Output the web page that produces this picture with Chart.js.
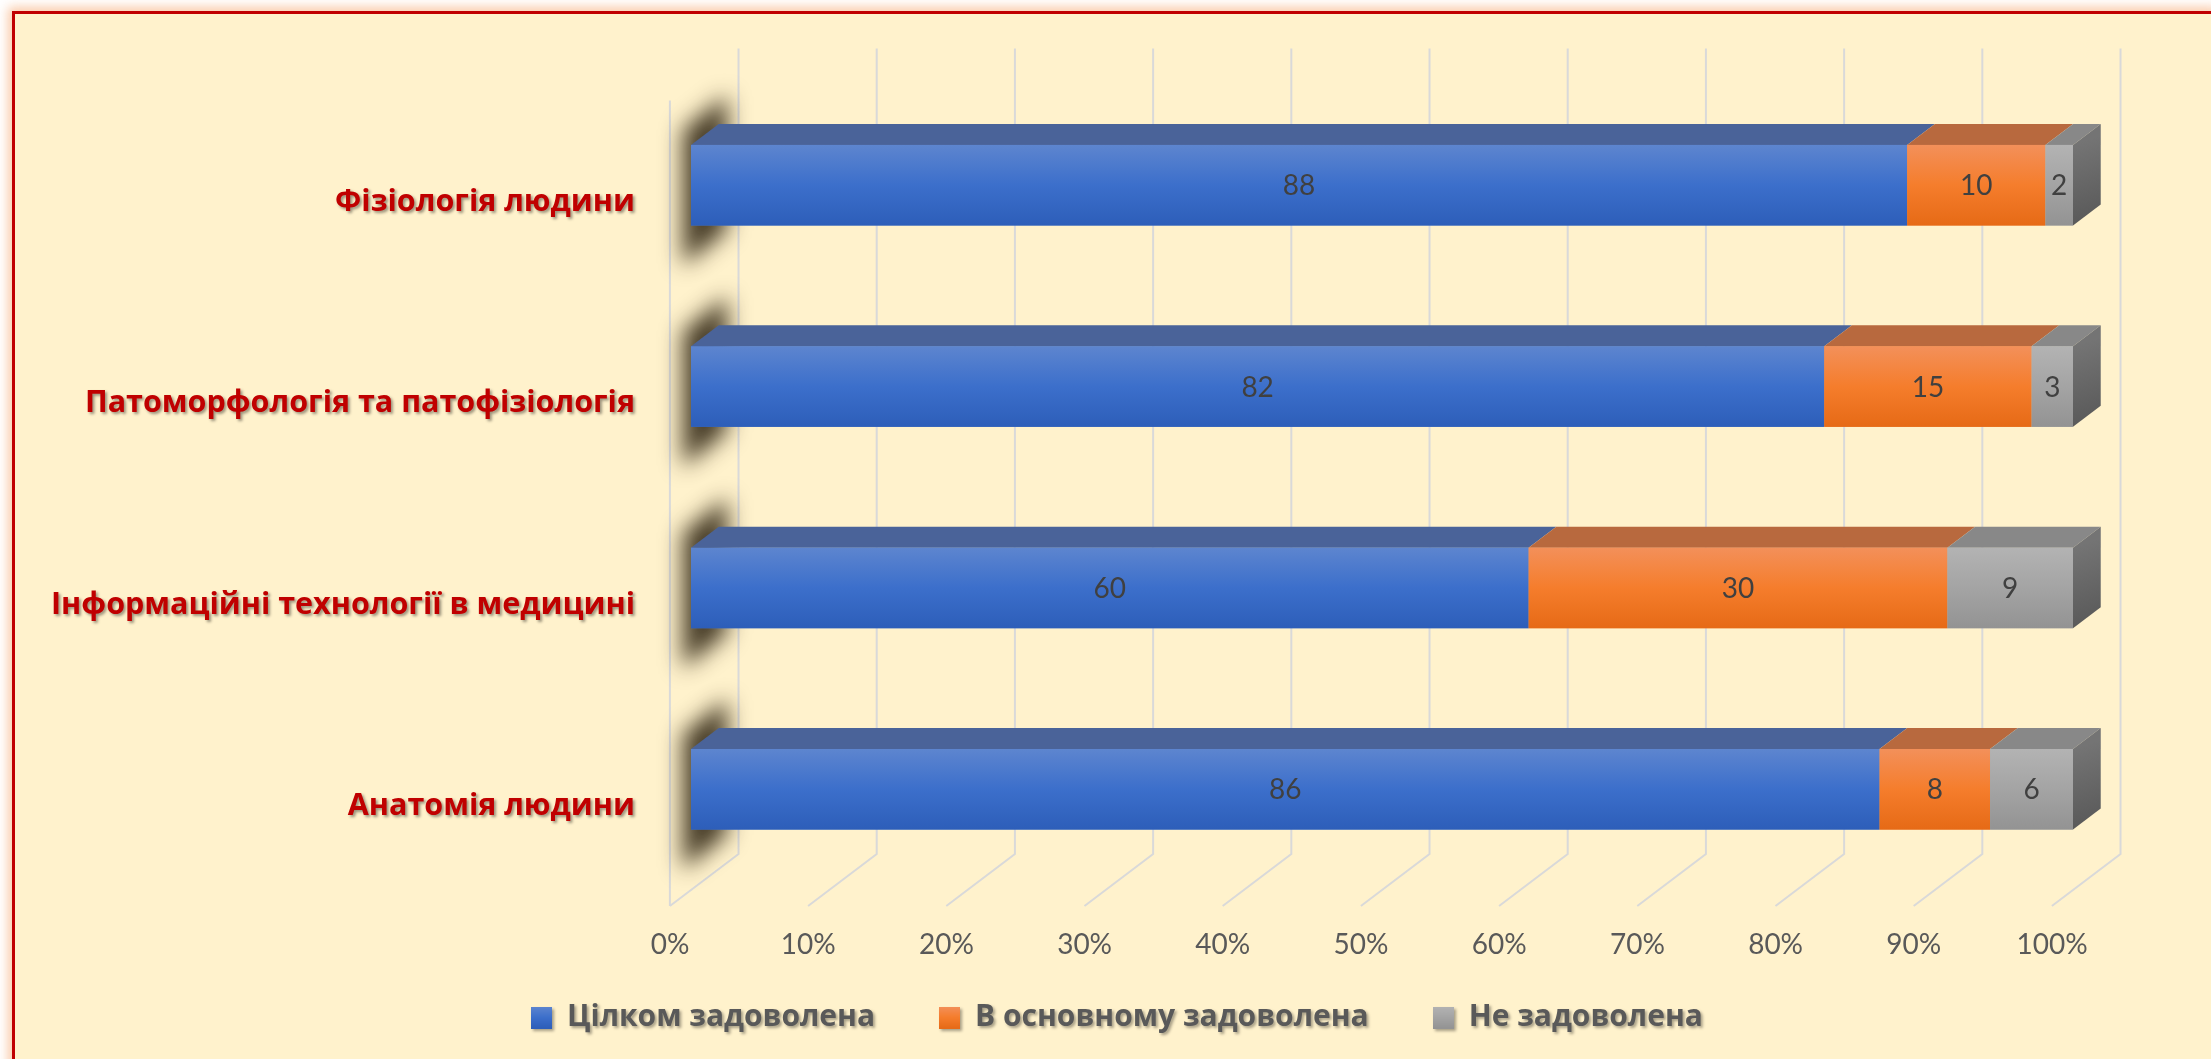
<!DOCTYPE html>
<html><head><meta charset="utf-8">
<script src="https://cdn.jsdelivr.net/npm/chart.js@4.4.1/dist/chart.umd.min.js"></script>
<style>
html,body{margin:0;padding:0;background:#fff;overflow:hidden;width:2211px;height:1059px;}
#frame{position:absolute;left:12px;top:11px;width:2202px;height:1100px;box-sizing:border-box;border:3px solid #C00000;background:#FFF2CC;box-shadow:0 0 10px 4px rgba(245,160,100,0.55);}
#c{position:absolute;left:0;top:0;}
</style></head><body>
<div id="frame"></div>
<canvas id="c" width="2211" height="1059"></canvas>
<script>
// ---- data ----
const categories = ['Фізіологія людини', 'Патоморфологія та патофізіологія', 'Інформаційні технології в медицині', 'Анатомія людини'];
const seriesNames = ['Цілком задоволена', 'В основному задоволена', 'Не задоволена'];
const fullySatisfied = [88, 82, 60, 86];
const mostlySatisfied = [10, 15, 30, 8];
const notSatisfied = [2, 3, 9, 6];
const tickSuffix = '%';

// ---- styles ----
const FONT_NUM = 'Lato, "Open Sans", sans-serif';
const FONT_TXT = '"Open Sans", Lato, sans-serif';
const legendColors = ['#4472C4', '#ED7D31', '#A5A5A5'];
const frontGrad = [['#5D85CF', '#3C6FCB', '#2D5EB9'], ['#F3905A', '#F57D2C', '#E66A16'], ['#B3B3B3', '#A4A4A4', '#939393']];
const topColors = ['#4A6399', '#B8693E', '#888888'];
const K = 1.32, D_FRONT = -16, D_BARBACK = 21, D_BACK = 36;
const off = d => ({dx: d * K, dy: -d});

const seriesValues = [fullySatisfied, mostlySatisfied, notSatisfied];
const totals = categories.map((_, i) => seriesValues.reduce((s, arr) => s + arr[i], 0));
const percentOf = arr => arr.map((v, i) => v / totals[i] * 100);

function legendSwatch(stops) {
  const c = document.createElement('canvas');
  c.width = 21; c.height = 22;
  const g = c.getContext('2d');
  const gr = g.createLinearGradient(0, 0, 0, 22);
  gr.addColorStop(0, stops[0]); gr.addColorStop(0.5, stops[1]); gr.addColorStop(1, stops[2]);
  g.fillStyle = gr; g.fillRect(0, 0, 21, 22);
  return c;
}

function withShadow(ctx, fn, alpha) {
  ctx.save();
  ctx.shadowColor = 'rgba(0,0,0,' + alpha + ')'; ctx.shadowBlur = 3; ctx.shadowOffsetX = 2; ctx.shadowOffsetY = 2;
  fn(); ctx.restore();
}

const threeD = {
  id: 'threeD',
  beforeDraw(chart) {
    const ctx = chart.ctx;
    if (chart.legend && !chart.legend._patched) {
      const orig = chart.legend.draw;
      chart.legend.draw = function (...a) { withShadow(ctx, () => orig.apply(this, a), 0.35); };
      chart.legend._patched = true;
    }
    ['x', 'y'].forEach(id => {
      const s = chart.scales[id];
      if (s && !s._patched) {
        s._computeLabelArea = () => undefined;
        if (id === 'y') {
          const origL = s.drawLabels;
          s.drawLabels = function (...a) { withShadow(ctx, () => origL.apply(this, a), 0.4); };
        }
        s._patched = true;
      }
    });
  },
  beforeDatasetsDraw(chart) {
    const {ctx, chartArea: a, scales: {x}} = chart;
    const fr = off(D_FRONT), bk = off(D_BACK);
    ctx.save();
    ctx.strokeStyle = '#D9D9D9'; ctx.lineWidth = 2;
    ctx.beginPath();
    ctx.moveTo(a.left + fr.dx, a.top + fr.dy); ctx.lineTo(a.left + fr.dx, a.bottom + fr.dy);
    x.ticks.forEach(t => {
      const px = x.getPixelForValue(t.value);
      ctx.moveTo(px + bk.dx, a.top + bk.dy);
      ctx.lineTo(px + bk.dx, a.bottom + bk.dy);
      ctx.lineTo(px + fr.dx, a.bottom + fr.dy);
    });
    ctx.stroke();
    chart.getDatasetMeta(0).data.forEach(bar => {
      const T = bar.y - bar.height / 2, B = bar.y + bar.height / 2, L = a.left, S = 10000;
      ctx.save();
      ctx.shadowColor = 'rgba(55,45,25,0.92)'; ctx.shadowBlur = 22; ctx.shadowOffsetX = S; ctx.shadowOffsetY = 0;
      ctx.fillStyle = '#000';
      ctx.beginPath();
      ctx.moveTo(L - 8 - S, T - 15); ctx.lineTo(L + 36 - S, T - 50);
      ctx.lineTo(L + 36 - S, B + 5); ctx.lineTo(L - 8 - S, B + 40);
      ctx.closePath(); ctx.fill();
      ctx.restore();
    });
    ctx.restore();
  },
  afterDatasetsDraw(chart) {
    const ctx = chart.ctx;
    const bb = off(D_BARBACK);
    const n = chart.data.datasets.length;
    ctx.save();
    for (let j = 0; j < categories.length; j++) {
      for (let i = 0; i < n; i++) {
        const el = chart.getDatasetMeta(i).data[j];
        const x0 = Math.min(el.base, el.x), x1 = Math.max(el.base, el.x);
        const T = el.y - el.height / 2, B = el.y + el.height / 2;
        ctx.fillStyle = topColors[i];
        ctx.beginPath();
        ctx.moveTo(x0, T); ctx.lineTo(x0 + bb.dx, T + bb.dy); ctx.lineTo(x1 + bb.dx, T + bb.dy); ctx.lineTo(x1, T);
        ctx.closePath(); ctx.fill();
        const g = ctx.createLinearGradient(0, T, 0, B);
        g.addColorStop(0, frontGrad[i][0]); g.addColorStop(0.5, frontGrad[i][1]); g.addColorStop(1, frontGrad[i][2]);
        ctx.fillStyle = g;
        ctx.fillRect(x0, T, x1 - x0, B - T);
        if (i === n - 1) {
          const sg = ctx.createLinearGradient(x1, T, x1 + bb.dx, B);
          sg.addColorStop(0, '#747474'); sg.addColorStop(1, '#575757');
          ctx.fillStyle = sg;
          ctx.beginPath();
          ctx.moveTo(x1, T); ctx.lineTo(x1 + bb.dx, T + bb.dy); ctx.lineTo(x1 + bb.dx, B + bb.dy); ctx.lineTo(x1, B);
          ctx.closePath(); ctx.fill();
        }
      }
    }
    ctx.fillStyle = '#404040';
    ctx.font = '28px ' + FONT_NUM;
    ctx.textAlign = 'center'; ctx.textBaseline = 'middle';
    for (let i = 0; i < n; i++) {
      chart.getDatasetMeta(i).data.forEach((el, j) => {
        ctx.fillText(String(seriesValues[i][j]), (el.base + el.x) / 2, el.y + 1);
      });
    }
    ctx.restore();
  }
};

new Chart(document.getElementById('c'), {
  type: 'bar',
  data: {
    labels: categories,
    datasets: seriesNames.map((name, i) => ({
      label: name,
      data: percentOf(seriesValues[i]),
      backgroundColor: legendColors[i],
      pointStyle: legendSwatch(frontGrad[i]),
      borderWidth: 0,
      barPercentage: 0.8,
      categoryPercentage: 0.5
    }))
  },
  options: {
    indexAxis: 'y',
    responsive: false,
    animation: false,
    devicePixelRatio: 1,
    layout: {padding: {top: 84.5, right: 138, bottom: 16.5, left: 161}},
    scales: {
      x: {
        stacked: true, min: 0, max: 100,
        grid: {display: false, drawTicks: false}, border: {display: false},
        ticks: {stepSize: 10, padding: 38, labelOffset: -21, color: '#595959', font: {family: FONT_NUM, size: 28},
          callback: v => v + tickSuffix},
        afterFit: s => { s.height = 48.5; }
      },
      y: {
        stacked: true,
        grid: {display: false, drawTicks: false}, border: {display: false},
        ticks: {padding: 56, labelOffset: 17, color: '#C00000', font: {family: FONT_TXT, size: 30.5, weight: 'bold'}},
        afterFit: s => { s.width = 530; }
      }
    },
    plugins: {
      legend: {
        position: 'bottom',
        labels: {usePointStyle: true, pointStyleWidth: 21, boxHeight: 22, padding: 64, color: '#595959',
          font: {family: FONT_TXT, size: 30, weight: 'bold'}}
      },
      tooltip: {enabled: false}
    }
  },
  plugins: [threeD]
});
</script>
</body></html>
